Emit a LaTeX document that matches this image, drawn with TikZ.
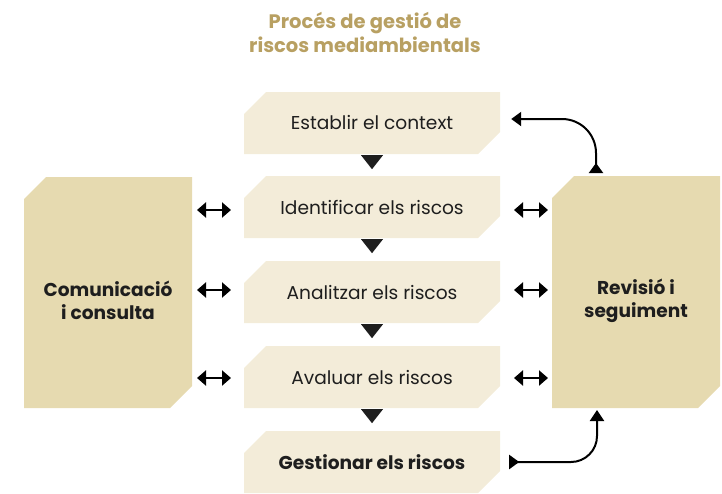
\documentclass[tikz,border=0pt]{standalone}
\usepackage{fontspec}
\setmainfont{Poppins}
\usetikzlibrary{arrows.meta}
\definecolor{light}{HTML}{F3ECD9}
\definecolor{side}{HTML}{E6DAB0}
\definecolor{gold}{HTML}{B8A062}
\definecolor{ink}{HTML}{1E1E1E}
\newcommand{\cutpoly}[5]{%
  \fill[#5] (#1,#3+22) -- (#1+22,#3) -- (#2,#3) -- (#2,#4-22) -- (#2-22,#4) -- (#1,#4) -- cycle;}
\begin{document}
\begin{tikzpicture}[x=1pt,y=-1pt,
  lbl/.style={text=ink, font=\fontsize{18.6}{22}\selectfont, align=center},
  blbl/.style={text=ink, font=\fontsize{18.6}{23}\selectfont\bfseries, align=center},
  dbl/.style={line width=2.6pt, {Triangle[length=9pt,width=15pt]}-{Triangle[length=9pt,width=15pt]}},
  flow/.style={line width=2pt},
  tri/.style={fill=ink}]
\useasboundingbox (0,0) rectangle (722,493);
% title
\node[text=gold, font=\fontsize{19.5}{24}\selectfont\bfseries, align=center] (title) at (365,32) {Procés de gestió de\\riscos mediambientals};
% central boxes
\cutpoly{244}{500}{92}{154}{light}
\cutpoly{244}{500}{176}{238}{light}
\cutpoly{244}{500}{261}{323}{light}
\cutpoly{244}{500}{346}{408}{light}
\cutpoly{244}{500}{431}{493}{light}
\node[lbl, minimum width=256pt, minimum height=62pt] (b1) at (372,123) {Establir el context};
\node[lbl, minimum width=256pt, minimum height=62pt] (b2) at (372,207) {Identificar els riscos};
\node[lbl, minimum width=256pt, minimum height=62pt] (b3) at (372,292) {Analitzar els riscos};
\node[lbl, minimum width=256pt, minimum height=62pt] (b4) at (372,377) {Avaluar els riscos};
\node[blbl, minimum width=256pt, minimum height=62pt] (b5) at (372,462) {Gestionar els riscos};
% side boxes
\cutpoly{24}{192}{177}{408}{side}
\cutpoly{552}{720}{176}{408}{side}
\node[blbl] (lbox) at (108,300) {Comunicació\\i consulta};
\node[blbl] (rbox) at (636,301) {Revisió i\\seguiment};
% down triangles
\foreach \a/\b in {b1/b2,b2/b3,b3/b4,b4/b5}{
  \fill[tri] ([xshift=-11pt,yshift=-1pt]\a.south) -- ([xshift=11pt,yshift=-1pt]\a.south) -- ([yshift=-15pt]\a.south) -- cycle;
}
% double arrows
\foreach \n/\y in {b2/210,b3/290,b4/378}{
  \draw[dbl] (197,\y) coordinate (l\n) -- (231,\y) coordinate (m\n);
  \draw[dbl] (514,\y) coordinate (r\n) -- (548,\y) coordinate (s\n);
}
% feedback arrows
\coordinate (t1) at (596,173);
\coordinate (t2) at (597,410);
\draw[flow, rounded corners=34pt, {Triangle[reversed,length=10pt,width=14pt]}-{Triangle[length=10pt,width=14pt]}]
  (t1) |- ([xshift=11pt,yshift=4pt]b1.east);
\draw[flow, rounded corners=26pt, {Triangle[reversed,length=10pt,width=14pt]}-{Triangle[length=11pt,width=14pt]}]
  ([xshift=9pt]b5.east) -| (t2);
\end{tikzpicture}
\end{document}
